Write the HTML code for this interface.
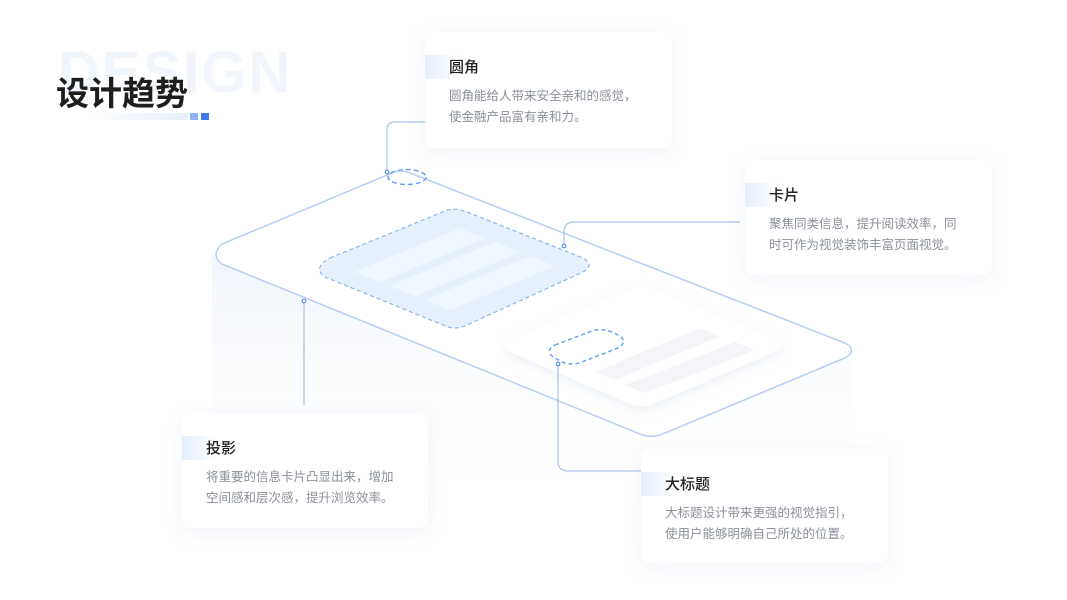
<!DOCTYPE html>
<html><head><meta charset="utf-8"><style>
*{margin:0;padding:0;box-sizing:border-box}
body{width:1067px;height:600px;overflow:hidden;background:#fff;position:relative;font-family:"Liberation Sans","Noto Sans CJK SC",sans-serif}
svg{position:absolute;left:0;top:0}
.card{position:absolute;background:#fff;border-radius:8px;box-shadow:0 4px 18px rgba(120,150,210,0.10)}
.chip{position:absolute;left:0;top:23px;width:34px;height:24px;background:linear-gradient(90deg,#e3edfc,rgba(255,255,255,0))}
.t{position:absolute;left:24px;top:25px;font-size:15px;font-weight:500;color:#222;line-height:20px;font-family:"Noto Sans CJK SC",sans-serif}
.b{position:absolute;left:24px;top:54px;font-size:12.5px;color:#8b9099;line-height:21px;white-space:nowrap}
</style></head><body>
<div style="position:absolute;left:58px;top:38px;font-size:58px;font-weight:bold;color:#f1f6fd;letter-spacing:2px;line-height:70px">DESIGN</div>
<div style="position:absolute;left:56px;top:70px;font-size:33px;font-weight:bold;color:#1e1e1e;font-family:'Noto Sans CJK SC',sans-serif;line-height:42px">设计趋势</div>
<div style="position:absolute;left:88px;top:113px;width:100px;height:7px;background:linear-gradient(90deg,rgba(235,242,253,0),#e7effc)"></div>
<div style="position:absolute;left:190px;top:113px;width:8px;height:7px;background:#8fb2f5"></div>
<div style="position:absolute;left:201px;top:113px;width:8px;height:7px;background:#3d7cf0"></div>
<svg width="1067" height="600">
<defs>
<linearGradient id="sh" x1="0" y1="0" x2="0" y2="1"><stop offset="0" stop-color="#eef3fc"/><stop offset="1" stop-color="#fff" stop-opacity="0"/></linearGradient>
<filter id="ds" x="-20%" y="-20%" width="140%" height="140%"><feDropShadow dx="0" dy="3" stdDeviation="5" flood-color="#7a96c8" flood-opacity="0.15"/></filter>
</defs>
<polygon points="212,255 650,437 853,352 853,520 212,520" fill="url(#sh)" opacity="0.8"/>
<path d="M222,244 L392,173 Q400,169 410,173 L845,343 Q858,350 845,358 L665,433 Q652,439 640,434 L222,264 Q210,255 222,244 Z" fill="#fff" stroke="#b8cdf5" stroke-width="1.5"/>
<path d="M330,258 L445,211 Q455,207 467,212 L583,258 Q595,265 583,272 L467,325 Q455,331 443,325 L325,277 Q312,268 330,258 Z" fill="#e6f0fd" stroke="#8ab4ec" stroke-width="1.2" stroke-dasharray="4,3"/>
<polygon points="355,272 460,228 485,238 380,282" fill="#f0f6fe"/>
<polygon points="390,286 495,242 520,252 415,296" fill="#f0f6fe"/>
<polygon points="425,300 530,256 555,266 450,310" fill="#f0f6fe"/>
<path d="M512,338 L630,289 Q642,284 654,289 L775,338 Q788,345 775,352 L654,404 Q642,409 630,404 L512,353 Q498,345 512,338 Z" fill="#fff" filter="url(#ds)"/>
<polygon points="595,372 700,328 720,336 615,380" fill="#f3f5f9"/>
<polygon points="625,385 735,342 755,350 645,393" fill="#f3f5f9"/>
<path d="M555,345 L592,331 Q602,328 612,332 L620,336 Q628,342 618,348 L582,362 Q572,366 562,362 L553,357 Q545,350 555,345 Z" fill="none" stroke="#6aa2ec" stroke-width="1.5" stroke-dasharray="4,3"/>
<ellipse cx="407" cy="177" rx="19" ry="7.5" fill="none" stroke="#6aa2ec" stroke-width="1.5" stroke-dasharray="5,3"/>
<g fill="none" stroke="#a9c3ef" stroke-width="1.2">
<path d="M387,172 L387,130 Q387,122 395,122 L425,122"/>
<path d="M564,246 L564,232 Q564,222 574,222 L740,222"/>
<path d="M304,301 L304,405"/>
<path d="M558,364 L558,461 Q558,471 568,471 L641,471"/>
</g>
<g fill="#fff" stroke="#5b93e6" stroke-width="1.2">
<circle cx="387" cy="172" r="1.8"/><circle cx="564" cy="246" r="1.8"/><circle cx="304" cy="301" r="1.8"/><circle cx="558" cy="364" r="1.8"/>
</g>
</svg>
<div class="card" style="left:425px;top:32px;width:247px;height:116px"><div class="chip"></div><div class="t">圆角</div><div class="b">圆角能给人带来安全亲和的感觉，<br>使金融产品富有亲和力。</div></div>
<div class="card" style="left:745px;top:160px;width:247px;height:115px"><div class="chip"></div><div class="t">卡片</div><div class="b">聚焦同类信息，提升阅读效率，同<br>时可作为视觉装饰丰富页面视觉。</div></div>
<div class="card" style="left:182px;top:413px;width:246px;height:115px"><div class="chip"></div><div class="t">投影</div><div class="b">将重要的信息卡片凸显出来，增加<br>空间感和层次感，提升浏览效率。</div></div>
<div class="card" style="left:641px;top:449px;width:247px;height:114px"><div class="chip"></div><div class="t">大标题</div><div class="b">大标题设计带来更强的视觉指引，<br>使用户能够明确自己所处的位置。</div></div>
</body></html>
